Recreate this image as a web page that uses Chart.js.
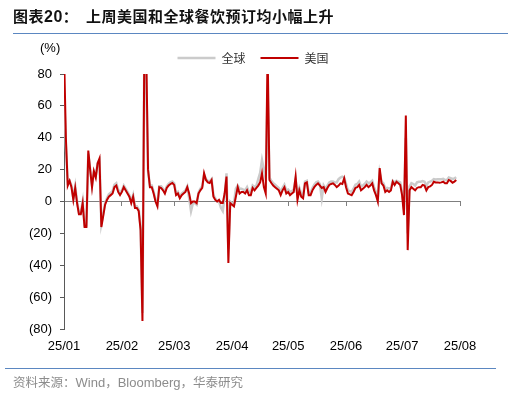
<!DOCTYPE html>
<html>
<head>
<meta charset="utf-8">
<script src="https://cdn.jsdelivr.net/npm/chart.js@4.4.1/dist/chart.umd.min.js"></script>
<style>
  html, body { margin: 0; padding: 0; background: #fff; }
  #wrap { position: relative; width: 516px; height: 393px; overflow: hidden; }
  #c { position: absolute; left: 0; top: 0; }
  .title { position: absolute; left: 13px; top: 5px; font-family: "Noto Sans CJK SC", sans-serif; font-weight: bold; font-size: 15px; color: #111; white-space: nowrap; letter-spacing: 0.5px; }
  .title .num { font-family: "Liberation Sans", Arial, sans-serif; font-size: 16px; }
  .hline { position: absolute; height: 1.5px; background: #5b87c1; }
  .unit { position: absolute; left: 40px; top: 40px; font-family: "Liberation Sans", Arial, sans-serif; font-size: 13px; color: #000; }
  .src { position: absolute; left: 13px; top: 372px; font-family: "Noto Sans CJK SC", sans-serif; font-size: 12.5px; color: #8c8c8c; white-space: nowrap; }
  .src .lat { font-family: "Liberation Sans", Arial, sans-serif; font-size: 13px; }
</style>
</head>
<body>
<div id="wrap">
  <canvas id="c" width="516" height="393"></canvas>
  <div class="title">图表<span class="num">20</span>：&nbsp;&nbsp;上周美国和全球餐饮预订均小幅上升</div>
  <div class="hline" style="left:13px; top:32.5px; width:495px;"></div>
  <div class="unit">(%)</div>
  <div class="hline" style="left:5px; top:367.5px; width:491px;"></div>
  <div class="src">资料来源：<span class="lat">Wind</span>，<span class="lat">Bloomberg</span>，华泰研究</div>
</div>
<script>
// Daily series from 2025-01-01 (index = day offset)
const seriesNames = ['美国', '全球'];
const usValues = [
  95, 40, 10, 13, 9, 1, 8.5, -1, -8, -8,
  -1, -16, -16, 32, 20, 9, 19, 15, 24, 27,
  -16, -9, -2, 1, 3, 4, 5, 9, 10, 6,
  4, 6, 9, 7, 5, 3, -1, 3, -4, -4,
  -6, -18, -75, 95, 95, 20, 9, 9, 5, 0,
  -3, 9, 8.5, 7, 5, 8.5, 10, 11, 11.6, 10.4,
  4, 5, 2, 4, 5, 6, 9, 5, -1, 0,
  0, -1, 5, 7, 8.5, 17.7, 13.5, 12, 11.6, 13.5,
  3, 1, 0, 1, -1, -1, 5, 15.6, -38.6, -1,
  -2, -3, 3, 9, 5, 6, 6, 5, 7, 4,
  4, 8.5, 7, 8.5, 10, 12, 17.7, 9, 5, 95,
  13.5, 11.6, 10, 9, 8, 7, 4, 7, 9, 5,
  6, 4, 5, 6, 15.6, 1, 7, 3, 2, 11.4,
  12, 4, 4, 7, 9, 10.4, 11.4, 10, 8.5, 9,
  6, 8.5, 10.4, 11, 11.4, 10.4, 9, 10, 11.4, 11,
  14.5, 9, 5, 4.5, 4, 6, 8.5, 9, 10.4, 7,
  8, 9, 10.4, 9, 10, 11.4, 7, 4, 0, 21,
  11.4, 10, 6, 7, 6, 7, 12.4, 10.4, 12.4, 11.4,
  10.4, 4, -8.5, 54, -30.5, 7, 9, 8, 7, 8.5,
  9, 9, 10.4, 10, 7, 9, 9.5, 10.4, 12.4, 12,
  12, 11.8, 12, 12.4, 11.4, 11.4, 13.5, 12.9, 11.8, 12.5,
  13.5
];
const globalValues = [
  70, 35, 12, 13, 10, 2, 9.5, 0, -7, -7,
  0, -15, -15, 30, 20, 10, 19, 16, 24, 26,
  -14, -8, -1, 2, 4.5, 5.5, 6.5, 10.5, 11.5, 7.5,
  5.5, 7, 10, 8, 6, 4, 0, 4, -3, -3,
  -5, -16, -70, 90, 80, 19, 10, 10, 6, 1,
  -2, 9.5, 9.5, 8, 6, 9.5, 11, 12, 12.6, 11.4,
  5, 6, 3, 5, 6, 7, 9.5, 2, -6, -1,
  -1, -2, 5.5, 8, 9.5, 17, 14, 13, 12.5, 14,
  4, 2, 0, 0, -4, -6, 3, 17.7, -30, 0,
  -1, -1, 8, 10, 8, 8, 7.5, 7, 9, 6,
  6, 10, 9, 10, 14, 18, 26, 20, 14, 70,
  15, 13, 11.5, 10.5, 9.5, 8.5, 6, 8.5, 10.5, 7,
  7.5, 6, 6.5, 7.5, 14, 4, 8.5, 5, 4, 12.5,
  13, 5.5, 5.5, 8.5, 10.5, 12, 12.5, 11, 2, 10,
  8, 10, 12, 12.5, 12.5, 12, 12, 14, 15, 15.6,
  15, 11, 7, 6.5, 6, 8, 10.5, 11, 12.5, 9.5,
  10, 11, 12.5, 11.5, 12, 13, 9, 6, 1, 18,
  12.5, 11.5, 8, 8.5, 8, 8.5, 13, 12, 13, 12.5,
  12, 6, -5, 40, -20, 9.5, 11.5, 11, 10, 12,
  12.4, 12.4, 12.8, 12.4, 10, 12, 12.5, 13, 14, 13.8,
  14, 14, 14, 14.2, 13.5, 13.5, 15, 14.6, 14, 14.5,
  15.2
];
const monthTicks = [0, 31, 59, 90, 120, 151, 181, 212];
const monthLabels = ['25/01', '25/02', '25/03', '25/04', '25/05', '25/06', '25/07', '25/08'];
const yTicks = [-80, -60, -40, -20, 0, 20, 40, 60, 80];

const toPoints = arr => arr.map((v, i) => ({ x: i, y: v }));
const setMonthTicks = s => { s.ticks = monthTicks.map(v => ({ value: v })); };

new Chart(document.getElementById('c'), {
  type: 'line',
  data: {
    datasets: [
      { label: seriesNames[0], data: toPoints(usValues), borderColor: '#c00000', backgroundColor: '#c00000', borderWidth: 2, xAxisID: 'x', yAxisID: 'y' },
      { label: seriesNames[1], data: toPoints(globalValues), borderColor: '#cbcbcb', backgroundColor: '#cbcbcb', borderWidth: 2.5, xAxisID: 'x', yAxisID: 'y' }
    ]
  },
  options: {
    responsive: false,
    devicePixelRatio: 1,
    animation: false,
    layout: { padding: { left: 0, right: 10, top: 37, bottom: 42 } },
    elements: { point: { radius: 0 }, line: { tension: 0 } },
    plugins: {
      tooltip: { enabled: false },
      legend: {
        position: 'top',
        labels: {
          usePointStyle: true,
          pointStyle: 'line',
          pointStyleWidth: 38,
          padding: 15,
          color: '#333',
          font: { family: '"Noto Sans CJK SC", sans-serif', size: 12 },
          sort: (a, b) => b.datasetIndex - a.datasetIndex
        }
      }
    },
    scales: {
      x: {
        type: 'linear', min: 0, max: 212,
        position: { y: 0 },
        afterBuildTicks: setMonthTicks,
        ticks: { display: false },
        grid: { drawOnChartArea: false, drawTicks: true, tickLength: 4, color: '#7f7f7f' },
        border: { display: true, color: '#7f7f7f', width: 1 }
      },
      x2: {
        type: 'linear', axis: 'x', min: 0, max: 212,
        position: 'bottom',
        afterBuildTicks: setMonthTicks,
        afterFit: s => { s.height = 22; },
        ticks: {
          padding: 2, maxRotation: 0, autoSkip: false, color: '#000',
          font: { family: '"Liberation Sans", Arial, sans-serif', size: 13 },
          callback: (v, i) => monthLabels[i]
        },
        grid: { display: false },
        border: { display: false }
      },
      y: {
        type: 'linear', min: -80, max: 80,
        position: 'left',
        afterBuildTicks: s => { s.ticks = yTicks.map(v => ({ value: v })); },
        afterFit: s => { s.width = 64; },
        ticks: {
          padding: 8, color: '#000',
          font: { family: '"Liberation Sans", Arial, sans-serif', size: 13 },
          callback: v => v < 0 ? '(' + (-v) + ')' : String(v)
        },
        grid: { drawOnChartArea: false, drawTicks: true, tickLength: 4, color: '#595959' },
        border: { display: true, color: '#595959', width: 1 }
      },
      yr: {
        type: 'linear', axis: 'y', min: -80, max: 80,
        position: 'right',
        afterFit: s => { s.width = 46; },
        ticks: { display: false },
        grid: { display: false },
        border: { display: false }
      }
    }
  }
});
</script>
</body>
</html>
